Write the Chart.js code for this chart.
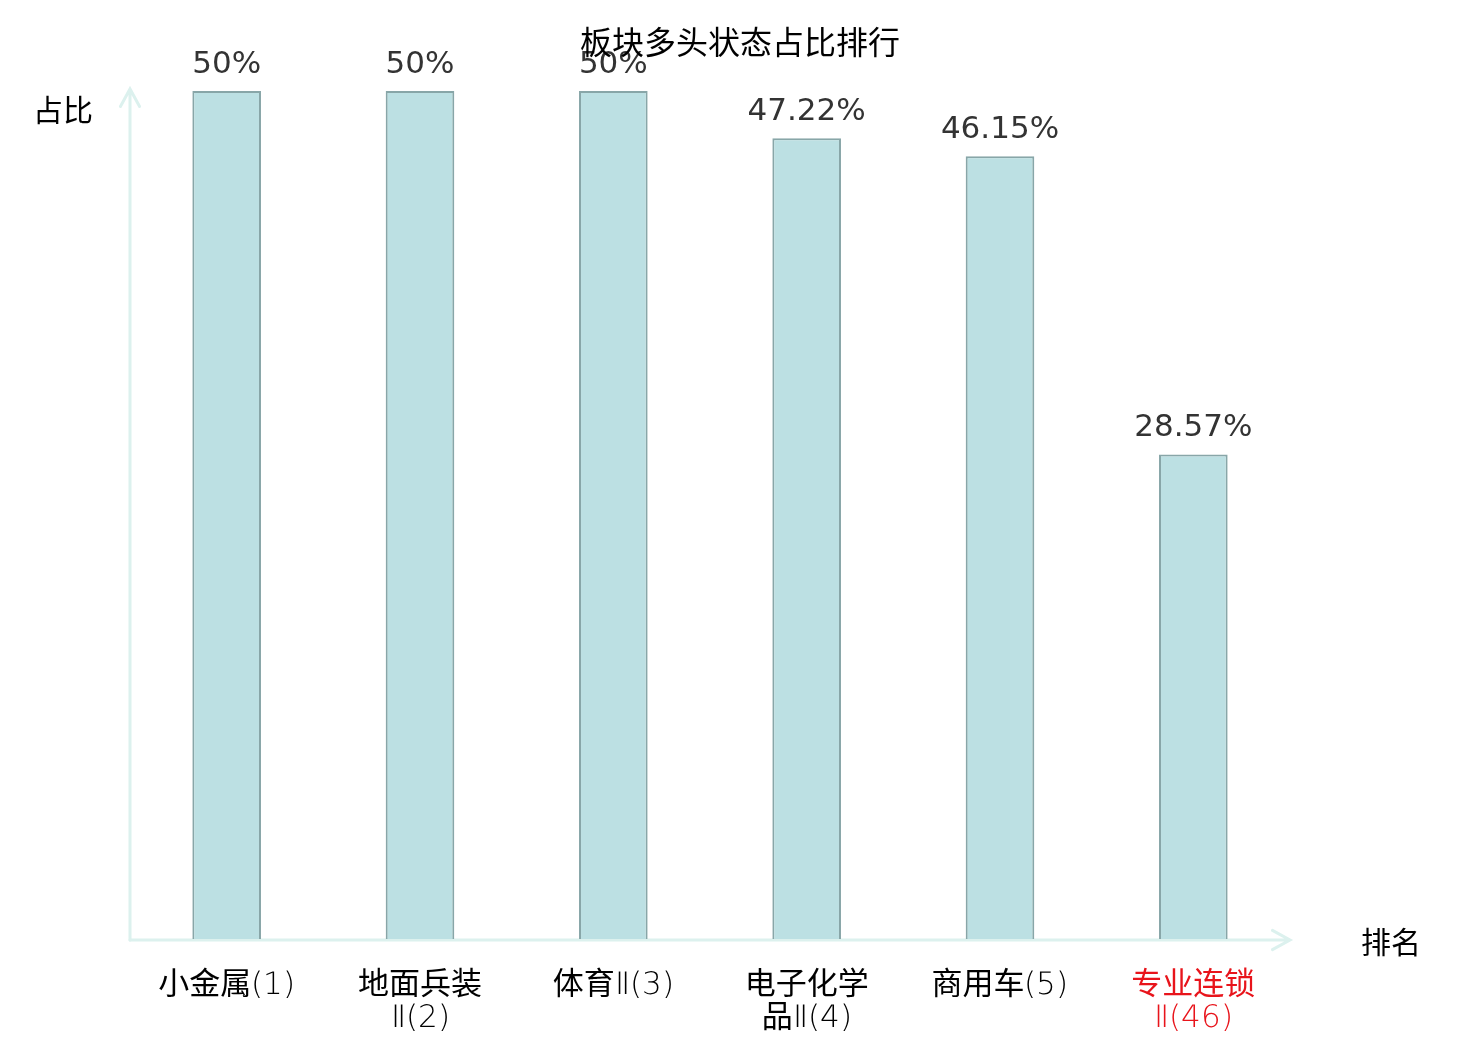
<!DOCTYPE html>
<html>
<head>
<meta charset="utf-8">
<script src="https://cdn.jsdelivr.net/npm/chart.js@4/dist/chart.umd.min.js"></script>
<style>
 html, body { margin: 0; padding: 0; background: #fff; }
 #wrap { width: 1480px; height: 1040px; position: relative; }
 /* thin latin glyphs for the tick labels, CJK falls back to regular weight */
 @font-face {
  font-family: 'ThinLatin';
  src: local('DejaVu Sans ExtraLight'), local('DejaVuSans-ExtraLight');
  unicode-range: U+0000-24FF;
 }
</style>
</head>
<body>
<div id="wrap"><canvas id="rankChart"></canvas></div>
<script>
'use strict';

// chart data
const categories = [
 ['小金属(1)'],
 ['地面兵装', 'Ⅱ(2)'],
 ['体育Ⅱ(3)'],
 ['电子化学', '品Ⅱ(4)'],
 ['商用车(5)'],
 ['专业连锁', 'Ⅱ(46)']
]
const shares = [50, 50, 50, 47.22, 46.15, 28.57]
const labelColors = ['#000', '#000', '#000', '#000', '#000', '#e8141b']

const chartTitle = '板块多头状态占比排行'
const yName = '占比'
const xName = '排名'

const axisColor = '#dcf1ee'
const cjkFont = '"Noto Sans CJK SC", "Noto Sans", sans-serif'

/**
 * Helper to draw a line with an open arrow head at its end
 */
const drawArrow = (ctx, x1, y1, x2, y2) => {
 const ang = Math.atan2(y2 - y1, x2 - x1)
 const len = 20
 ctx.beginPath()
 ctx.moveTo(x1, y1)
 ctx.lineTo(x2, y2)
 ctx.moveTo(x2 - len * Math.cos(ang - 0.5), y2 - len * Math.sin(ang - 0.5))
 ctx.lineTo(x2, y2)
 ctx.lineTo(x2 - len * Math.cos(ang + 0.5), y2 - len * Math.sin(ang + 0.5))
 ctx.stroke()
}

// plugin for the axes with arrows, axis names, title and value labels
const decorPlugin = {
 id: 'decor',
 beforeDatasetsDraw: (chart) => {
  const { ctx, chartArea } = chart
  ctx.save()
  ctx.strokeStyle = axisColor
  ctx.lineWidth = 3
  ctx.lineCap = 'round'
  drawArrow(ctx, chartArea.left, chartArea.bottom + 1, chartArea.left, chartArea.top - 2)
  drawArrow(ctx, chartArea.left, chartArea.bottom + 1, chartArea.right, chartArea.bottom + 1)
  ctx.restore()
 },
 afterDatasetsDraw: (chart) => {
  const { ctx } = chart
  ctx.save()
  // value labels above each bar
  ctx.font = '31px "DejaVu Sans", sans-serif'
  ctx.fillStyle = '#333'
  ctx.textAlign = 'center'
  ctx.textBaseline = 'alphabetic'
  chart.getDatasetMeta(0).data.forEach((bar, i) => {
   ctx.fillText(shares[i] + '%', bar.x, bar.y - 18)
  })
  // axis names
  ctx.fillStyle = '#000'
  ctx.font = '30px ' + cjkFont
  ctx.textBaseline = 'middle'
  ctx.fillText(yName, 63, 110)
  ctx.fillText(xName, 1391, 942)
  // title
  ctx.font = '32px ' + cjkFont
  ctx.fillText(chartTitle, 740, 42)
  ctx.restore()
 }
}

/**
 * Function to create the bar chart
 * Takes no parameters
 * Returns nothing
 */
const createRankChart = () => {
 const chartElement = document.getElementById('rankChart')

 new Chart(chartElement, {
  type: 'bar',
  data: {
   labels: categories,
   datasets: [{
    data: shares,
    backgroundColor: '#bce0e3',
    borderColor: '#88a6a8',
    borderWidth: 2,
    barPercentage: 0.355,
    categoryPercentage: 1
   }]
  },
  options: {
   responsive: true,
   maintainAspectRatio: false,
   animation: false,
   layout: { padding: { left: 130, right: 190, top: 91, bottom: 0 } },
   plugins: {
    legend: { display: false },
    title: { display: false },
    tooltip: { enabled: false }
   },
   scales: {
    x: {
     grid: { display: false, drawTicks: false },
     border: { display: false },
     afterFit: (scale) => { scale.height = 101 },
     ticks: {
      padding: 31,
      maxRotation: 0,
      autoSkip: false,
      color: labelColors,
      font: { size: 31, family: 'ThinLatin, ' + cjkFont, lineHeight: 1.05 }
     }
    },
    y: {
     display: false,
     min: 0,
     max: 50
    }
   }
  },
  plugins: [decorPlugin]
 })
}

// wait for the local thin font, then draw
document.fonts.load('31px ThinLatin', 'Ⅱ(1)')
 .catch(() => null)
 .then(createRankChart)
</script>
</body>
</html>
